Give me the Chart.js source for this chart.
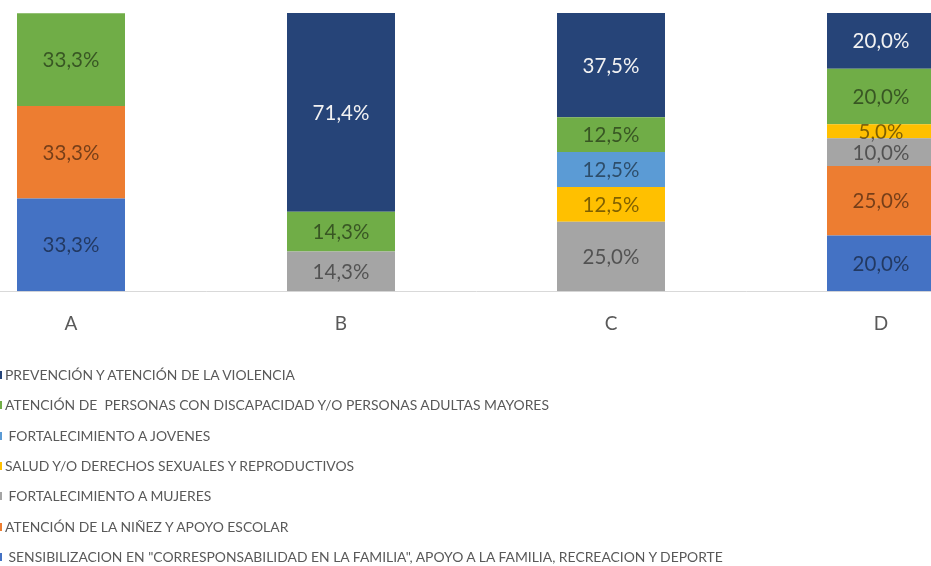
<!DOCTYPE html>
<html>
<head>
<meta charset="utf-8">
<script src="https://cdn.jsdelivr.net/npm/chart.js@4/dist/chart.umd.min.js"></script>
<style>
  html, body { margin:0; padding:0; width:931px; height:566px; overflow:hidden; background:#fff; }
  #wrap { position:absolute; left:-64px; top:0; width:1080px; height:356px; }
  #legend { position:absolute; left:0; top:0; width:931px; height:566px; pointer-events:none; }
  .item { position:absolute; left:0; height:16px; font-family:"Lato","Liberation Sans",sans-serif; font-size:13.9px; color:#595959; white-space:pre; line-height:16px; }
  .item .box { position:absolute; left:-6px; top:4px; width:8px; height:8px; }
  .item .txt { position:absolute; left:5px; top:0; }
</style>
</head>
<body>
<div id="wrap"><canvas id="c" width="1080" height="356"></canvas></div>
<div id="legend"></div>
<script>
// ---- data ----
const categories = ["A", "B", "C", "D"];
const seriesNames = [
  " SENSIBILIZACION EN \"CORRESPONSABILIDAD EN LA FAMILIA\", APOYO A LA FAMILIA, RECREACION Y DEPORTE",
  "ATENCIÓN DE LA NIÑEZ Y APOYO ESCOLAR",
  " FORTALECIMIENTO A MUJERES",
  "SALUD Y/O DERECHOS SEXUALES Y REPRODUCTIVOS",
  " FORTALECIMIENTO A JOVENES",
  "ATENCIÓN DE  PERSONAS CON DISCAPACIDAD Y/O PERSONAS ADULTAS MAYORES",
  "PREVENCIÓN Y ATENCIÓN DE LA VIOLENCIA"
];
const sensibilizacion = [33.3, 0, 0, 20.0];
const ninez          = [33.3, 0, 0, 25.0];
const mujeres        = [0, 14.3, 25.0, 10.0];
const salud          = [0, 0, 12.5, 5.0];
const jovenes        = [0, 0, 12.5, 0];
const discapacidad   = [33.3, 14.3, 12.5, 20.0];
const violencia      = [0, 71.4, 37.5, 20.0];
const seriesValues = [sensibilizacion, ninez, mujeres, salud, jovenes, discapacidad, violencia];
const seriesColors = ["#4472C4", "#ED7D31", "#A5A5A5", "#FFC000", "#5B9BD5", "#70AD47", "#264478"];
const labelColors  = ["rgba(0,0,0,0.5)","rgba(0,0,0,0.5)","rgba(0,0,0,0.5)","rgba(0,0,0,0.5)","rgba(0,0,0,0.5)","rgba(0,0,0,0.5)","#F2F2F2"];

const FONT = '"Lato","Liberation Sans",sans-serif';

const datasets = seriesNames.map((n, i) => ({
  label: n,
  data: seriesValues[i].map(v => v === 0 ? null : v),
  backgroundColor: seriesColors[i],
  borderWidth: 0,
  barPercentage: 1.0,
  categoryPercentage: 0.4
}));

const labelPlugin = {
  id: 'segLabels',
  afterDatasetsDraw(chart) {
    const ctx = chart.ctx;
    ctx.save();
    ctx.font = '20.5px ' + FONT;
    ctx.textAlign = 'center';
    ctx.textBaseline = 'middle';
    chart.data.datasets.forEach((ds, di) => {
      const meta = chart.getDatasetMeta(di);
      meta.data.forEach((bar, j) => {
        const v = ds.data[j];
        if (v == null) return;
        const p = bar.getProps(['x', 'y', 'base'], true);
        ctx.fillStyle = labelColors[di];
        ctx.fillText(v.toFixed(1).replace('.', ',') + '%', p.x, (p.y + p.base) / 2 + 1);
      });
    });
    ctx.restore();
  }
};

new Chart(document.getElementById('c'), {
  type: 'bar',
  data: { labels: categories, datasets },
  options: {
    responsive: false,
    animation: false,
    devicePixelRatio: 1,
    layout: { padding: { top: 13, bottom: 0, left: 0, right: 0 } },
    plugins: { legend: { display: false }, tooltip: { enabled: false } },
    scales: {
      x: {
        stacked: true,
        grid: { display: false, drawTicks: false },
        border: { display: true, color: '#D9D9D9', width: 1 },
        ticks: { color: '#595959', font: { size: 19, family: FONT }, padding: 21 }
      },
      y: { stacked: true, display: false, min: 0, max: 100 }
    }
  },
  plugins: [labelPlugin]
});

// HTML legend built from the series arrays (reverse stack order)
const leg = document.getElementById('legend');
const rowY = 367;
const rowStep = 30.3;
for (let k = 0; k < seriesNames.length; k++) {
  const i = seriesNames.length - 1 - k;
  const d = document.createElement('div');
  d.className = 'item';
  d.style.top = (rowY + k * rowStep) + 'px';
  const b = document.createElement('span');
  b.className = 'box';
  b.style.background = seriesColors[i];
  const t = document.createElement('span');
  t.className = 'txt';
  t.textContent = seriesNames[i];
  d.appendChild(b); d.appendChild(t);
  leg.appendChild(d);
}
</script>
</body>
</html>
